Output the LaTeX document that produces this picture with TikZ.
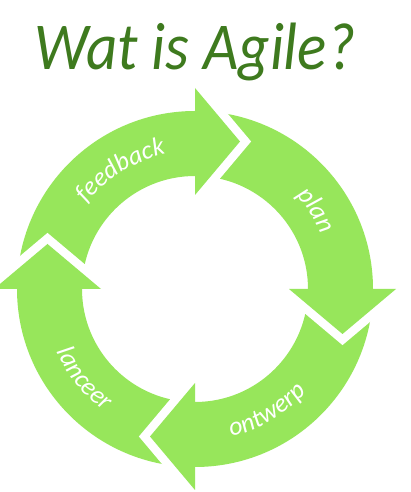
\documentclass[tikz,border=0pt]{standalone}
\usepackage{fontspec}
\usepackage{graphicx}
\newfontfamily\labelfont{Carlito}
\usetikzlibrary{decorations.text}
\definecolor{ringgreen}{HTML}{97E65B}
\definecolor{titlegreen}{HTML}{3E7A1E}
\begin{document}
\begin{tikzpicture}[x=1pt,y=1pt,
  shaftpart/.style={fill=ringgreen},
  headgap/.style={draw=white, line width=17pt, line join=miter, miter limit=10},
  headfill/.style={fill=ringgreen},
  arclabel/.style={decorate, decoration={text along path, text align=center, text color=white,
     text={|\labelfont\itshape\fontsize{26}{26}\selectfont|#1}}}]
\useasboundingbox (0,0) rectangle (411,492);
\node[anchor=base, text=titlegreen, inner sep=0pt, font=\labelfont\itshape\fontsize{67}{67}\selectfont] (title) at (195,422) {\scalebox{0.91}[1]{Wat is Agile?}};
\begin{scope}[shift={(195,203)}]
  \coordinate (ringcenter) at (0,0);
  % shafts (feedback, plan, ontwerp, lanceer)
  \foreach \a [evaluate=\a as \b using \a-90] in {180,90,0,-90} {
    \fill[shaftpart] (\a:178) arc[start angle=\a, end angle=\b, radius=178]
      -- (\b:113) arc[start angle=\b, end angle=\a, radius=113] -- cycle;
  }
  % arrowheads
  \foreach \a in {90,0,-90,180} {
    \begin{scope}[rotate=\a]
      \draw[headgap] (201,0) -- (147.5,-45) -- (94,0);
      \fill[headfill] (201,0) -- (147.5,-45) -- (94,0) -- cycle;
    \end{scope}
  }
  % labels
  \path[arclabel=feedback] (160:138) arc[start angle=160, end angle=84, radius=138];
  \path[arclabel=plan] (70:138) arc[start angle=70, end angle=-4, radius=138];
  \path[arclabel=ontwerp] (-100:152) arc[start angle=-100, end angle=-19, radius=152];
  \path[arclabel=lanceer] (-181:152) arc[start angle=-181, end angle=-101, radius=152];
\end{scope}
\end{tikzpicture}
\end{document}
